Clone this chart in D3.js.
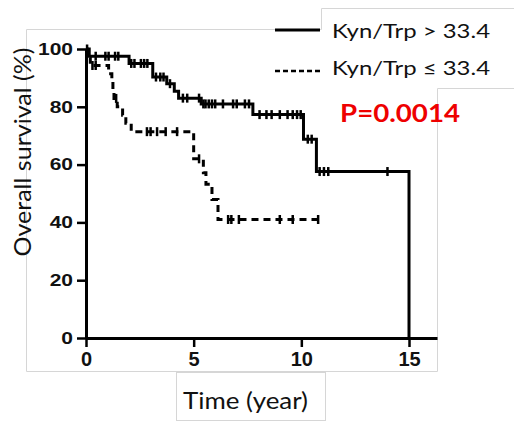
<!DOCTYPE html>
<html>
<head>
<meta charset="utf-8">
<script src="https://cdn.jsdelivr.net/npm/d3@7"></script>
<style>
  body { margin: 0; background: #fff; }
</style>
</head>
<body>
<div id="chart"></div>
<script>
// Kaplan-Meier steps (time in years, survival in %)
var highTimes = [0, 0.15, 2.0, 3.1, 3.75, 4.1, 4.3, 5.35, 7.75, 10.1, 10.7, 15.0];
var highSurv  = [100, 97.5, 95.0, 90.3, 88.0, 85.4, 83.0, 81.0, 77.3, 68.8, 57.6, 0];
var highCensor = [0.05, 0.45, 0.9, 1.05, 1.35, 1.5, 2.1, 2.25, 2.55, 2.7, 2.85, 3.25, 3.45, 3.6, 3.9,
                  4.5, 4.7, 5.25, 5.45, 5.55, 5.7, 5.85, 6.0, 6.36, 6.83, 7.0, 7.38, 7.57,
                  8.06, 8.38, 8.62, 9.0, 9.36, 9.6, 9.8, 9.97, 10.3, 10.48, 10.85, 11.05, 11.25, 14.0];

var lowTimes = [0, 0.05, 0.2, 1.05, 1.2, 1.25, 1.3, 1.45, 1.7, 1.85, 2.1, 5.0, 5.45, 5.57, 5.85, 6.13];
var lowSurv  = [100, 97.1, 94.3, 91.4, 88.6, 85.7, 82.9, 80.0, 77.1, 74.3, 71.4, 62.0, 57.2, 53.2, 47.9, 41.0];
var lowCensor = [0.3, 0.45, 1.4, 2.83, 3.0, 3.3, 3.7, 4.23, 5.25, 6.6, 6.75, 7.1, 9.0, 9.6, 10.78];

var xTicks = [0, 5, 10, 15];
var yTicks = [0, 20, 40, 60, 80, 100];

var legendLabels = ["Kyn/Trp > 33.4", "Kyn/Trp \u2264 33.4"];
var pText = "P=0.0014";

var svgWidth = 514;
var svgHeight = 424;

var svg = d3.select("#chart")
  .append("svg")
  .attr("width", svgWidth)
  .attr("height", svgHeight);

// faint frames left over from the pasted images
var frame = svg.append("g").attr("stroke", "#d6d6d6").attr("stroke-width", 1).attr("fill", "none");
frame.append("path").attr("d", "M26.5,371.5 V29.5 H321.5 V8.5 H514");
frame.append("path").attr("d", "M514,88.5 H437.5 V371.5 H26.5");
frame.append("rect").attr("x", 176.5).attr("y", 372.5).attr("width", 149).attr("height", 48);

var x = d3.scaleLinear().domain([0, 16.3]).range([86, 437]);
var y = d3.scaleLinear().domain([0, 100]).range([338, 49]);

var xAxis = svg.append("g")
  .attr("transform", "translate(0,338)")
  .call(d3.axisBottom(x).tickValues(xTicks).tickSize(9).tickSizeOuter(0).tickPadding(5));

var yAxis = svg.append("g")
  .attr("transform", "translate(86,0)")
  .call(d3.axisLeft(y).tickValues(yTicks).tickSize(9).tickSizeOuter(0).tickPadding(4));

[xAxis, yAxis].forEach(function(ax) {
  ax.select(".domain").attr("stroke", "#000").attr("stroke-width", 3);
  ax.selectAll(".tick line").attr("stroke", "#000").attr("stroke-width", 2.5);
  ax.selectAll(".tick text")
    .attr("fill", "#111")
    .attr("font-family", "'Liberation Sans', Arial, sans-serif")
    .attr("font-weight", "bold")
    .attr("font-size", 20);
});
// y labels in the source are wider than tall
yAxis.selectAll(".tick text").attr("font-size", 21).attr("transform", "scale(1,0.8)");

// step curves
var line = d3.line()
  .x(function(d) { return x(d[0]); })
  .y(function(d) { return y(d[1]); })
  .curve(d3.curveStepAfter);

var highPts = highTimes.map(function(t, i) { return [t, highSurv[i]]; });
var lowPts = lowTimes.map(function(t, i) { return [t, lowSurv[i]]; });
lowPts.push([d3.max(lowCensor), lowSurv[lowSurv.length - 1]]);

function survAt(times, surv, t) {
  var i = d3.bisectRight(times, t) - 1;
  return surv[Math.max(i, 0)];
}

svg.append("path")
  .attr("d", line(highPts))
  .attr("fill", "none")
  .attr("stroke", "#000")
  .attr("stroke-width", 3);

svg.append("path")
  .attr("d", line(lowPts))
  .attr("fill", "none")
  .attr("stroke", "#000")
  .attr("stroke-width", 3)
  .attr("stroke-dasharray", "7,5");

// censor marks
function drawCensor(list, times, surv) {
  svg.append("g").selectAll("line")
    .data(list)
    .enter()
    .append("line")
    .attr("x1", function(d) { return x(d); })
    .attr("x2", function(d) { return x(d); })
    .attr("y1", function(d) { return y(survAt(times, surv, d)) - 4.5; })
    .attr("y2", function(d) { return y(survAt(times, surv, d)) + 4.5; })
    .attr("stroke", "#000")
    .attr("stroke-width", 2.5);
}
drawCensor(highCensor, highTimes, highSurv);
drawCensor(lowCensor, lowTimes, lowSurv);

// legend
var legend = svg.append("g");
legend.append("line").attr("x1", 275).attr("x2", 320).attr("y1", 30).attr("y2", 30)
  .attr("stroke", "#000").attr("stroke-width", 3);
legend.append("line").attr("x1", 275).attr("x2", 320).attr("y1", 71).attr("y2", 71)
  .attr("stroke", "#000").attr("stroke-width", 2.5).attr("stroke-dasharray", "5,3");
legend.selectAll("text")
  .data(legendLabels)
  .enter()
  .append("text")
  .attr("x", 332)
  .attr("y", function(d, i) { return 38 + i * 37; })
  .attr("font-family", "Lato, 'Open Sans', sans-serif")
  .attr("font-size", 19)
  .attr("fill", "#111")
  .attr("textLength", 158)
  .attr("lengthAdjust", "spacingAndGlyphs")
  .text(function(d) { return d; });

// p value
svg.append("text")
  .attr("x", 340)
  .attr("y", 122)
  .attr("font-family", "Lato, 'Open Sans', sans-serif")
  .attr("font-weight", "bold")
  .attr("font-size", 24)
  .attr("fill", "#ee0000")
  .attr("textLength", 120)
  .attr("lengthAdjust", "spacingAndGlyphs")
  .text(pText);

// axis titles
svg.append("text")
  .attr("transform", "translate(31,152) rotate(-90)")
  .attr("text-anchor", "middle")
  .attr("font-family", "Lato, 'Open Sans', sans-serif")
  .attr("font-size", 23)
  .attr("fill", "#111")
  .attr("textLength", 209)
  .attr("lengthAdjust", "spacingAndGlyphs")
  .text("Overall survival (%)");

svg.append("text")
  .attr("x", 183)
  .attr("y", 409)
  .attr("font-family", "Lato, 'Open Sans', sans-serif")
  .attr("font-size", 23)
  .attr("fill", "#111")
  .attr("textLength", 125)
  .attr("lengthAdjust", "spacingAndGlyphs")
  .text("Time (year)");
</script>
</body>
</html>
